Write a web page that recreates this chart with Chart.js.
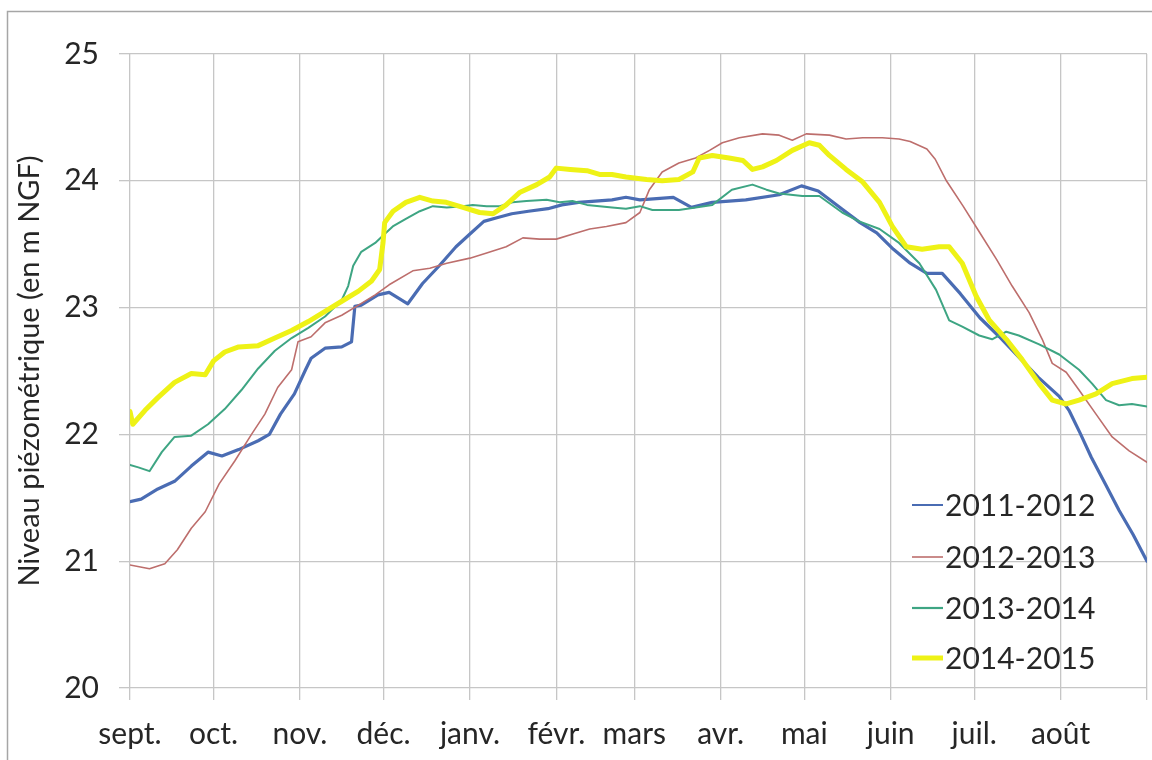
<!DOCTYPE html>
<html>
<head>
<meta charset="utf-8">
<script src="https://cdn.jsdelivr.net/npm/chart.js@4"></script>
<style>
  html, body { margin: 0; padding: 0; background: #ffffff; }
  #wrap { width: 1152px; height: 760px; position: relative; }
</style>
</head>
<body>
<div id="wrap"><canvas id="c" width="1152" height="760"></canvas></div>
<script>
// ---- Data (day index from 1 Sept, level in m NGF) ----
const monthStarts = [0, 30, 61, 91, 122, 153, 181, 212, 242, 273, 303, 334, 365];
const monthLabels = ['sept.', 'oct.', 'nov.', 'déc.', 'janv.', 'févr.', 'mars', 'avr.', 'mai', 'juin', 'juil.', 'août', ''];
const yTicks = [20, 21, 22, 23, 24, 25];
const seriesLabels = ['2011-2012', '2012-2013', '2013-2014', '2014-2015'];

const days2011 = [0,4,10,16,22,28,33,39,46,50,54,59,63,65,70,76,79.5,80.7,83,89,93,99.7,105,111,117,122,127,132,137,143,150,155,161,167,173,178,183,195,201.5,209,221,233,241,247,256,262,268,274,280,286,291.5,298,305,312,319,326,333.5,337,341,345,350,355,360,365];
const vals2011 = [21.47,21.49,21.57,21.63,21.75,21.86,21.83,21.88,21.95,22.00,22.16,22.32,22.51,22.60,22.68,22.69,22.73,23.01,23.02,23.10,23.12,23.03,23.19,23.33,23.48,23.58,23.68,23.71,23.74,23.76,23.78,23.81,23.83,23.84,23.85,23.87,23.85,23.87,23.79,23.83,23.85,23.89,23.96,23.92,23.77,23.67,23.59,23.46,23.35,23.27,23.27,23.11,22.92,22.77,22.61,22.45,22.30,22.19,22.01,21.82,21.61,21.40,21.21,21.00];

const days2012 = [0,7,12.5,17,22,27,32,37.6,43.6,48.4,53,58,60.3,65,70,76,82,88,93,101.5,107.6,113.7,122,128,135,141,147,153,159,165,171,178,183,186.4,191,197,203,208,212.6,218.7,227,233,237.7,242.7,251,257,263,270,276,280,286,289,293,299,305,311,316.6,322.7,327.4,331,336,340.6,346.7,352.5,358.6,365];
const vals2012 = [20.97,20.94,20.98,21.09,21.26,21.39,21.61,21.79,22.00,22.16,22.37,22.51,22.73,22.77,22.88,22.94,23.02,23.10,23.18,23.29,23.31,23.35,23.39,23.43,23.48,23.55,23.54,23.54,23.58,23.62,23.64,23.67,23.75,23.93,24.07,24.14,24.18,24.24,24.30,24.34,24.37,24.36,24.32,24.37,24.36,24.33,24.34,24.34,24.33,24.31,24.25,24.17,24.00,23.80,23.59,23.38,23.17,22.96,22.75,22.56,22.49,22.35,22.16,21.98,21.87,21.78];

const days2013 = [0,3,7,11.4,16,22,28,34,40,46,52,58,64,70,76,78.3,80.1,83,88,91.4,94.3,99,104,108.7,113.7,119.4,123,128,132.7,137.3,142.3,149.5,154.2,158.8,164,168.5,173,178,183,187.5,197,209,216,223.4,228.4,233,241.3,247.4,255.6,261.7,269,276,283.3,289.3,294,298.7,304.8,309.4,314.5,319,326.3,333.5,340.6,345.3,350.3,355,359.6,365];
const vals2013 = [21.76,21.74,21.71,21.86,21.98,21.99,22.08,22.20,22.35,22.52,22.66,22.76,22.84,22.93,23.06,23.17,23.33,23.44,23.51,23.58,23.64,23.70,23.76,23.80,23.79,23.80,23.81,23.80,23.80,23.83,23.84,23.85,23.83,23.84,23.81,23.80,23.79,23.78,23.80,23.77,23.77,23.81,23.93,23.97,23.93,23.90,23.88,23.88,23.75,23.68,23.62,23.51,23.35,23.14,22.90,22.85,22.78,22.75,22.81,22.78,22.71,22.63,22.51,22.40,22.27,22.23,22.24,22.22];

const days2014 = [0,1,5.4,10,16,22,27,30,34,39,46,52,58,64,70,76,82,86.7,89.6,90.8,91.4,94.4,99,104,108.7,113.5,119.5,125.5,130.3,135,140,146,150.6,153,158,164,168.5,173,178,185.4,191,197,202,204.3,209,215,220,223.4,227,232,237.7,243.8,247.4,251,257,263,269,273.6,278.6,284.3,290.4,294,298.7,303.7,308.4,314.5,320.2,326.3,331,336,340.6,346.7,352.5,359.6,365];
const vals2014 = [22.18,22.08,22.19,22.29,22.41,22.48,22.47,22.58,22.65,22.69,22.70,22.76,22.82,22.89,22.97,23.05,23.13,23.21,23.30,23.51,23.67,23.76,23.83,23.87,23.84,23.83,23.79,23.75,23.74,23.81,23.91,23.97,24.03,24.10,24.09,24.08,24.05,24.05,24.03,24.01,24.00,24.01,24.07,24.18,24.20,24.18,24.16,24.09,24.11,24.16,24.24,24.30,24.28,24.20,24.09,23.99,23.83,23.64,23.48,23.46,23.48,23.48,23.35,23.09,22.90,22.75,22.59,22.40,22.27,22.24,22.27,22.32,22.40,22.44,22.45];

const toPts = (d, v) => d.map((x, i) => ({ x: x, y: v[i] }));

const FONT = 'Lato, "Open Sans", sans-serif';
const TEXT = '#262626';

const frame = {
  id: 'frame',
  beforeDraw(chart) {
    const ctx = chart.ctx;
    ctx.save();
    ctx.fillStyle = '#ffffff';
    ctx.fillRect(0, 0, chart.width, chart.height);
    ctx.strokeStyle = '#a6a6a6';
    ctx.lineWidth = 1.5;
    ctx.strokeRect(7.5, 11.5, 1200, 800);
    ctx.restore();
  }
};

const legendBox = {
  id: 'legendBox',
  afterDraw(chart) {
    const ctx = chart.ctx;
    const rows = [505, 557, 608, 658];
    ctx.save();
    ctx.font = '30px ' + FONT;
    ctx.textBaseline = 'middle';
    ctx.textAlign = 'left';
    chart.data.datasets.forEach((ds, i) => {
      const y = rows[i];
      ctx.strokeStyle = ds.borderColor;
      ctx.lineWidth = ds.legendWidth;
      ctx.beginPath();
      ctx.moveTo(912, y);
      ctx.lineTo(943, y);
      ctx.stroke();
      ctx.fillStyle = TEXT;
      ctx.fillText(ds.label, 945, y + 1);
    });
    ctx.restore();
  }
};

new Chart(document.getElementById('c'), {
  type: 'line',
  data: {
    datasets: [
      { label: seriesLabels[0], data: toPts(days2011, vals2011), borderColor: '#4a6cb3', borderWidth: 3.2, legendWidth: 2, order: 3 },
      { label: seriesLabels[1], data: toPts(days2012, vals2012), borderColor: '#bd6e6c', borderWidth: 1.6, legendWidth: 1.6, order: 2 },
      { label: seriesLabels[2], data: toPts(days2013, vals2013), borderColor: '#3ea583', borderWidth: 2, legendWidth: 2.2, order: 1 },
      { label: seriesLabels[3], data: toPts(days2014, vals2014), borderColor: '#eef216', borderWidth: 5, legendWidth: 5, order: 0 }
    ]
  },
  options: {
    responsive: false,
    animation: false,
    events: [],
    layout: { padding: { left: 0, right: 5, top: 54, bottom: 0 } },
    elements: {
      point: { radius: 0 },
      line: { tension: 0, borderJoinStyle: 'round', borderCapStyle: 'round', fill: false }
    },
    plugins: { legend: { display: false }, tooltip: { enabled: false } },
    scales: {
      x: {
        type: 'linear',
        min: 0,
        max: 365,
        afterBuildTicks(scale) { scale.ticks = monthStarts.map(v => ({ value: v })); },
        afterFit(scale) { scale.height = 72; scale.paddingRight = 0; scale.paddingLeft = 0; },
        ticks: {
          autoSkip: false,
          maxRotation: 0,
          padding: 16,
          color: TEXT,
          font: { family: FONT, size: 30 },
          callback(v) { const i = monthStarts.indexOf(v); return i >= 0 ? monthLabels[i] : ''; }
        },
        grid: { color: '#c6c6c6', lineWidth: 1.3, tickLength: 12, drawTicks: true },
        border: { display: false }
      },
      y: {
        min: 20,
        max: 25,
        afterBuildTicks(scale) { scale.ticks = yTicks.map(v => ({ value: v })); },
        afterFit(scale) { scale.width = 130; },
        ticks: {
          padding: 20,
          color: TEXT,
          font: { family: FONT, size: 30 }
        },
        title: {
          display: true,
          text: 'Niveau piézométrique (en m NGF)',
          color: TEXT,
          font: { family: FONT, size: 29 },
          padding: { top: 12, bottom: 0 }
        },
        grid: { color: '#c6c6c6', lineWidth: 1.3, tickLength: 11, drawTicks: true },
        border: { display: false }
      }
    }
  },
  plugins: [frame, legendBox]
});
</script>
</body>
</html>
